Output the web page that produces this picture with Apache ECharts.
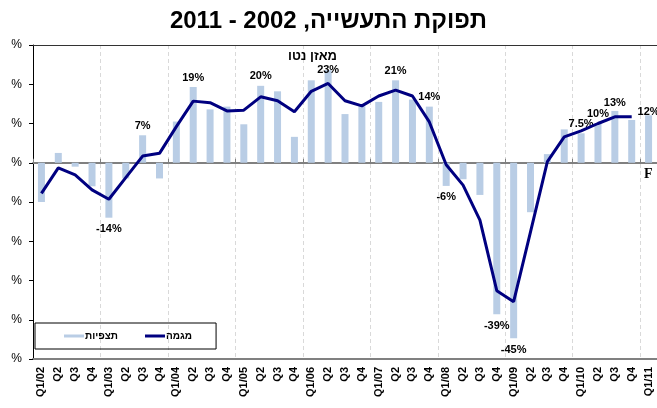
<!DOCTYPE html>
<html>
<head>
<meta charset="utf-8">
<script src="https://cdn.jsdelivr.net/npm/echarts@6/dist/echarts.min.js"></script>
<style>
  html, body { margin: 0; padding: 0; background: #fff; }
  #chart { width: 657px; height: 408px; }
</style>
</head>
<body>
<div id="chart"></div>
<script>
// quarters Q1/02 .. Q1/11
var quarters = [
  'Q1/02', 'Q2', 'Q3', 'Q4',
  'Q1/03', 'Q2', 'Q3', 'Q4',
  'Q1/04', 'Q2', 'Q3', 'Q4',
  'Q1/05', 'Q2', 'Q3', 'Q4',
  'Q1/06', 'Q2', 'Q3', 'Q4',
  'Q1/07', 'Q2', 'Q3', 'Q4',
  'Q1/08', 'Q2', 'Q3', 'Q4',
  'Q1/09', 'Q2', 'Q3', 'Q4',
  'Q1/10', 'Q2', 'Q3', 'Q4',
  'Q1/11'
];

// תצפיות (bars), net balance %
var observed = [
  -10, 2.5, -1, -6,
  -14, -4, 7, -4,
  10.5, 19.3, 13.6, 14.3,
  9.8, 19.6, 18.2, 6.6,
  21, 23.6, 12.4, 14.4,
  15.5, 21, 16.1, 14.3,
  -5.9, -4.2, -8.2, -38.6,
  -44.7, -12.6, 2.2, 8.5,
  7.5, 10, 13.2, 10.9,
  12.1
];

// מגמה (trend line)
var trend = [
  -7.8, -1.3, -3.1, -6.9,
  -9.3, -3.8, 1.7, 2.4,
  9.2, 15.7, 15.3, 13.2,
  13.4, 16.8, 15.8, 13,
  18.2, 20.2, 15.8, 14.5,
  17, 18.5, 17, 10.4,
  -0.5, -5.7, -14.6, -32.6,
  -35.4, -17.6, 0.3, 6.6,
  8.1, 10, 11.7, 11.7,
  null
];

// annotated bars: index -> text
var pointLabels = {
  4: '-14%', 6: '7%', 9: '19%', 13: '20%', 17: '23%', 21: '21%', 23: '14%',
  24: '-6%', 27: '-39%', 28: '-45%', 32: '7.5%', 33: '10%', 34: '13%', 36: '12%'
};

var FONT = '"Liberation Sans", Arial, sans-serif';
// a few labels sit closer to their bar in the original
var labelDist = { 17: -5, 36: -2, 34: 2 };

var barData = observed.map(function (v, i) {
  if (!pointLabels[i]) return v;
  return {
    value: v,
    label: {
      show: true,
      formatter: pointLabels[i],
      position: v < 0 ? 'bottom' : 'top',
      distance: labelDist[i] !== undefined ? labelDist[i] : (v < 0 ? 6 : 4)
    }
  };
});

var chart = echarts.init(document.getElementById('chart'));

chart.setOption({
  animation: false,
  textStyle: { fontFamily: FONT },
  title: [
    {
      text: 'תפוקת התעשייה, 2002 - 2011',
      left: 'center',
      top: 4,
      textStyle: { fontSize: 24, fontWeight: 'bold', color: '#000', fontFamily: FONT }
    },
    {
      text: 'מאזן נטו',
      left: 283,
      top: 45,
      textStyle: { fontSize: 13, fontWeight: 'bold', color: '#000', fontFamily: FONT }
    }
  ],
  graphic: [
    {
      type: 'text',
      left: 644,
      top: 167,
      style: { text: 'F', font: 'bold 14px "Liberation Serif", "Times New Roman", serif', fill: '#000' }
    }
  ],
  legend: {
    data: [
      { name: 'תצפיות', icon: 'rect' },
      { name: 'מגמה', icon: 'rect' }
    ],
    left: 35,
    top: 323,
    padding: [8, 24, 8, 29],
    itemGap: 27,
    itemWidth: 20,
    itemHeight: 3,
    borderColor: '#000',
    borderWidth: 1,
    textStyle: { fontSize: 10, fontWeight: 'bold', color: '#000', fontFamily: FONT, padding: [0, 0, 0, -4] }
  },
  grid: { left: 33, right: 0, top: 45, bottom: 49 },
  xAxis: [
    {
      type: 'category',
      data: quarters,
      position: 'bottom',
      axisLine: { onZero: false, lineStyle: { color: '#808080', width: 2 } },
      axisTick: { show: false },
      axisLabel: {
        interval: 0,
        rotate: 90,
        margin: 8,
        fontSize: 11,
        fontWeight: 'bold',
        color: '#000',
        fontFamily: FONT
      },
      splitLine: {
        show: true,
        interval: 3,
        lineStyle: { color: '#d9d9d9', type: [4, 3], width: 1 }
      }
    },
    {
      type: 'category',
      data: quarters,
      position: 'bottom',
      axisLine: { onZero: true, lineStyle: { color: '#808080', width: 2 } },
      axisTick: { show: true, inside: true, interval: 3, length: 4, lineStyle: { color: '#808080' } },
      axisLabel: { show: false },
      splitLine: { show: false }
    },
    {
      type: 'category',
      data: quarters,
      position: 'top',
      axisLine: { onZero: false, lineStyle: { color: '#333', width: 1 } },
      axisTick: { show: false },
      axisLabel: { show: false },
      splitLine: { show: false }
    }
  ],
  yAxis: {
    type: 'value',
    min: -50,
    max: 30,
    interval: 10,
    axisLine: { show: true, lineStyle: { color: '#000', width: 1 } },
    axisTick: { show: true, length: 4, lineStyle: { color: '#000' } },
    axisLabel: {
      formatter: function () { return '%'; },
      margin: 11,
      fontSize: 12,
      color: '#000',
      fontFamily: FONT
    },
    splitLine: { show: false }
  },
  series: [
    {
      name: 'תצפיות',
      type: 'bar',
      xAxisIndex: 0,
      barWidth: 7,
      data: barData,
      itemStyle: { color: '#b9cde5' },
      label: { fontSize: 11, fontWeight: 'bold', color: '#000', fontFamily: FONT }
    },
    {
      name: 'מגמה',
      type: 'line',
      xAxisIndex: 0,
      data: trend,
      symbol: 'none',
      lineStyle: { color: '#000080', width: 3 },
      itemStyle: { color: '#000080' },
      z: 3
    }
  ]
});
</script>
</body>
</html>
